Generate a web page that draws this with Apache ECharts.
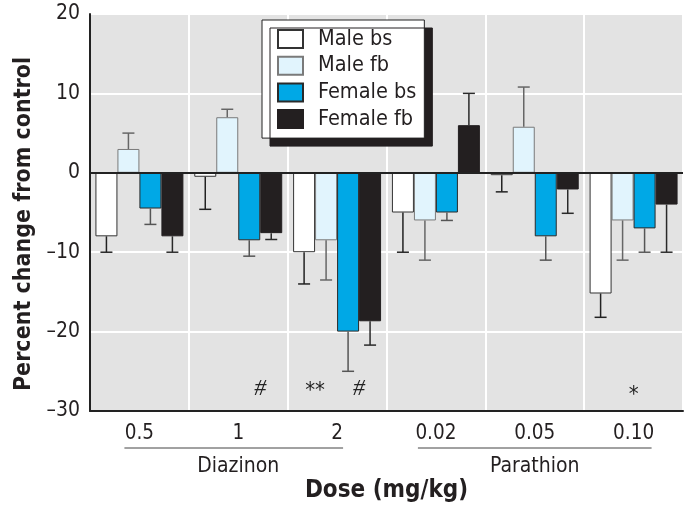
<!DOCTYPE html>
<html>
<head>
<meta charset="utf-8">
<script src="https://cdn.jsdelivr.net/npm/echarts@6/dist/echarts.min.js"></script>
<style>
html,body{margin:0;padding:0;background:#fff;}
#chart{width:691px;height:520px;}
</style>
</head>
<body>
<div id="chart"></div>
<script>
// ---- data ----
const categories = ['0.5', '1', '2', '0.02', '0.05', '0.10'];
const seriesNames = ['Male bs', 'Male fb', 'Female bs', 'Female fb'];
const maleBs      = [-8,   -0.5, -10,   -5,  -0.3, -15.2];
const maleBsErr   = [ 2,    4.1,   4,    5,   2.1,   3  ];
const maleFb      = [ 3,    7,    -8.5, -6,   5.8,  -6  ];
const maleFbErr   = [ 2,    1,     5,    5,   5,     5  ];
const femaleBs    = [-4.5, -8.5, -20,   -5,  -8,    -7  ];
const femaleBsErr = [ 2,    2,     5,    1,   3,     3  ];
const femaleFb    = [-8,   -7.6, -18.7,  6,  -2.1,  -4  ];
const femaleFbErr = [ 2,    0.8,   3,    4,   3,     6  ];
const groupNames = ['Diazinon', 'Parathion'];
const groupSpans = [[0, 2], [3, 5]];
const annotationCats  = ['1', '2', '2', '0.10'];
const annotationTexts = ['#', '**', '#', '*'];
const yTickValues = [-30, -20, -10, 0, 10, 20];

// ---- style ----
const FONT = "'Liberation Sans Narrow', 'DejaVu Sans Condensed', 'Liberation Sans', sans-serif";
const barColors = ['#ffffff', '#e1f4fd', '#00a8e6', '#231f20'];
const barBorders = ['#333333', '#7a7a7a', '#2a2a2a', '#231f20'];
const errColors = ['#222222', '#666666', '#555555', '#2a2a2a'];
const annotationOffsets = [1, -1, 1, 0]; // in bar widths from category centre
const annotationLevels = [-27.2, -27.5, -27.2, -28];
const CAT_GAP = 0.11;

const values = [maleBs, maleFb, femaleBs, femaleFb];
const errs = [maleBsErr, maleFbErr, femaleBsErr, femaleFbErr];

const chart = echarts.init(document.getElementById('chart'), null, {renderer: 'canvas'});

const barSeries = seriesNames.map((name, k) => ({
  name: name,
  type: 'bar',
  data: values[k],
  barGap: '0%',
  barCategoryGap: (CAT_GAP * 100) + '%',
  itemStyle: {color: barColors[k], borderColor: barBorders[k], borderWidth: 1},
  z: 2
}));

const errSeries = seriesNames.map((name, k) => ({
  type: 'custom',
  silent: true,
  z: 3,
  data: values[k].map((v, i) => [i, v, v >= 0 ? v + errs[k][i] : v - errs[k][i]]),
  encode: {x: 0, y: [1, 2]},
  renderItem: function (params, api) {
    const c = api.value(0), v = api.value(1), e = api.value(2);
    const p0 = api.coord([c, v]);
    const p1 = api.coord([c, e]);
    const catW = api.size([1, 0])[0];
    const bw = catW * (1 - CAT_GAP) / 4;
    const x = p0[0] + (k - 1.5) * bw;
    const half = 6;
    const st = {stroke: errColors[k], lineWidth: 1.5};
    return {
      type: 'group',
      children: [
        {type: 'line', shape: {x1: x, y1: p0[1], x2: x, y2: p1[1]}, style: st},
        {type: 'line', shape: {x1: x - half, y1: p1[1], x2: x + half, y2: p1[1]}, style: st}
      ]
    };
  }
}));

const annSeries = {
  type: 'custom',
  silent: true,
  z: 4,
  data: annotationCats.map((c, j) => [categories.indexOf(c), annotationLevels[j], j]),
  encode: {x: 0, y: 1},
  renderItem: function (params, api) {
    const j = api.value(2);
    const p = api.coord([api.value(0), api.value(1)]);
    const catW = api.size([1, 0])[0];
    const bw = catW * (1 - CAT_GAP) / 4;
    const txt = annotationTexts[j];
    const isHash = txt.indexOf('#') >= 0;
    return {
      type: 'text',
      x: p[0] + annotationOffsets[j] * bw,
      y: p[1],
      style: {
        text: txt,
        textAlign: 'center',
        textVerticalAlign: 'middle',
        fill: '#222',
        font: isHash ? 'italic 24px "Liberation Serif", serif' : '22px ' + FONT
      }
    };
  }
};

barSeries[3].markLine = {
  silent: true,
  symbol: ['none', 'none'],
  label: {show: false},
  lineStyle: {color: '#222', width: 2, type: 'solid'},
  data: [{yAxis: 0}],
  z: 5
};

const option = {
  animation: false,
  backgroundColor: '#ffffff',
  textStyle: {fontFamily: FONT},
  grid: {
    left: 90, right: 8, top: 14, bottom: 109,
    show: true, backgroundColor: '#e3e3e3', borderWidth: 0
  },
  legend: {
    data: seriesNames,
    orient: 'vertical',
    left: 262, top: 20,
    itemWidth: 25, itemHeight: 18, itemGap: 4.7,
    padding: [8, 8, 8, 15],
    icon: 'rect',
    backgroundColor: '#ffffff',
    borderColor: '#222', borderWidth: 1,
    shadowColor: '#231f20', shadowBlur: 0, shadowOffsetX: 8, shadowOffsetY: 8,
    textStyle: {fontFamily: FONT, fontSize: 21.5, lineHeight: 18, color: '#231f20', padding: [0, 0, 0, 10]},
    selectedMode: false
  },
  xAxis: {
    type: 'category',
    data: categories,
    axisLine: {show: true, onZero: false, lineStyle: {color: '#222', width: 2}},
    axisTick: {show: false},
    splitLine: {show: true, lineStyle: {color: '#ffffff', width: 2}},
    axisLabel: {fontFamily: FONT, fontSize: 20.5, color: '#231f20', margin: 12},
    name: 'Dose (mg/kg)',
    nameLocation: 'middle',
    nameGap: 68,
    nameTextStyle: {fontFamily: FONT, fontSize: 24, fontWeight: 'bold', color: '#231f20'}
  },
  yAxis: {
    type: 'value',
    min: -30, max: 20, interval: 10,
    axisLine: {show: true, lineStyle: {color: '#222', width: 2}},
    axisTick: {show: false},
    splitLine: {show: true, lineStyle: {color: '#ffffff', width: 2}},
    axisLabel: {
      fontFamily: FONT, fontSize: 21, color: '#231f20', margin: 10,
      formatter: v => (yTickValues.indexOf(v) >= 0 ? String(v).replace('-', '\u2013') : '')
    }
  },
  series: [...barSeries, ...errSeries, annSeries]
};

chart.setOption(option);

// group labels under the category axis, placed from the axis scale
const gfx = [];
const baseY = chart.convertToPixel({yAxisIndex: 0}, -30);
groupSpans.forEach((span, g) => {
  const xa = chart.convertToPixel({xAxisIndex: 0}, categories[span[0]]);
  const xb = chart.convertToPixel({xAxisIndex: 0}, categories[span[1]]);
  const pad = g === 0 ? [-15, 6] : [-18, 18];
  gfx.push({
    type: 'line',
    shape: {x1: xa + pad[0], y1: baseY + 37, x2: xb + pad[1], y2: baseY + 37},
    style: {stroke: '#444', lineWidth: 1},
    silent: true
  });
  gfx.push({
    type: 'text',
    x: (xa + xb) / 2, y: baseY + 56,
    style: {text: groupNames[g], font: '21px ' + FONT, fill: '#231f20', textAlign: 'center', textVerticalAlign: 'middle'},
    silent: true
  });
});
gfx.push({
  type: 'text',
  x: 24, y: 224,
  rotation: Math.PI / 2,
  style: {text: 'Percent change from control', font: 'bold 23px ' + FONT, fill: '#231f20', textAlign: 'center', textVerticalAlign: 'middle'},
  silent: true
});
chart.setOption({graphic: gfx});
</script>
</body>
</html>
